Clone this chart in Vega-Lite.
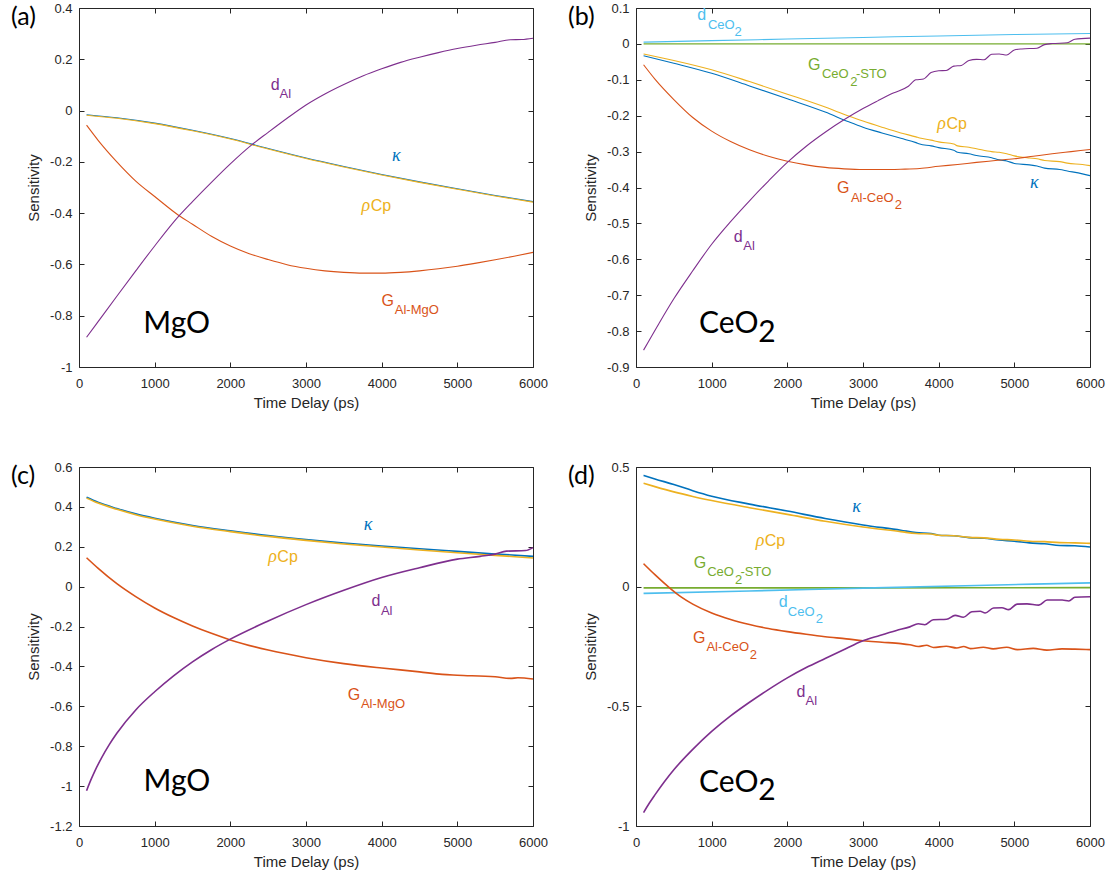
{
"$schema": "https://vega.github.io/schema/vega-lite/v6.json",
"background": "white",
"padding": {"left": 10, "top": 1, "right": 5, "bottom": 5},
"bounds": "flush",
"columns": 2,
"spacing": {"row": 100, "column": 103},
"resolve": {"scale": {"x": "independent", "y": "independent"}},
"datasets": {
"lines": [
{"p":"a","s":"kappa","x":100,"y":-0.016},{"p":"a","s":"kappa","x":500,"y":-0.028},{"p":"a","s":"kappa","x":1000,"y":-0.049},{"p":"a","s":"kappa","x":1500,"y":-0.077},{"p":"a","s":"kappa","x":2000,"y":-0.109},{"p":"a","s":"kappa","x":2500,"y":-0.148},{"p":"a","s":"kappa","x":3000,"y":-0.185},{"p":"a","s":"kappa","x":3500,"y":-0.218},{"p":"a","s":"kappa","x":4000,"y":-0.249},{"p":"a","s":"kappa","x":4500,"y":-0.278},{"p":"a","s":"kappa","x":5000,"y":-0.305},{"p":"a","s":"kappa","x":5500,"y":-0.331},{"p":"a","s":"kappa","x":6000,"y":-0.355},
{"p":"a","s":"rhoCp","x":100,"y":-0.018},{"p":"a","s":"rhoCp","x":500,"y":-0.03},{"p":"a","s":"rhoCp","x":1000,"y":-0.051},{"p":"a","s":"rhoCp","x":1500,"y":-0.079},{"p":"a","s":"rhoCp","x":2000,"y":-0.111},{"p":"a","s":"rhoCp","x":2500,"y":-0.15},{"p":"a","s":"rhoCp","x":3000,"y":-0.187},{"p":"a","s":"rhoCp","x":3500,"y":-0.22},{"p":"a","s":"rhoCp","x":4000,"y":-0.251},{"p":"a","s":"rhoCp","x":4500,"y":-0.28},{"p":"a","s":"rhoCp","x":5000,"y":-0.307},{"p":"a","s":"rhoCp","x":5500,"y":-0.333},{"p":"a","s":"rhoCp","x":6000,"y":-0.357},
{"p":"a","s":"GAl","x":100,"y":-0.057},{"p":"a","s":"GAl","x":250,"y":-0.115},{"p":"a","s":"GAl","x":500,"y":-0.2},{"p":"a","s":"GAl","x":750,"y":-0.275},{"p":"a","s":"GAl","x":1000,"y":-0.335},{"p":"a","s":"GAl","x":1324,"y":-0.41},{"p":"a","s":"GAl","x":1500,"y":-0.443},{"p":"a","s":"GAl","x":1750,"y":-0.49},{"p":"a","s":"GAl","x":2000,"y":-0.528},{"p":"a","s":"GAl","x":2250,"y":-0.558},{"p":"a","s":"GAl","x":2500,"y":-0.581},{"p":"a","s":"GAl","x":2750,"y":-0.601},{"p":"a","s":"GAl","x":3000,"y":-0.615},{"p":"a","s":"GAl","x":3250,"y":-0.625},{"p":"a","s":"GAl","x":3500,"y":-0.631},{"p":"a","s":"GAl","x":3750,"y":-0.634},{"p":"a","s":"GAl","x":4000,"y":-0.634},{"p":"a","s":"GAl","x":4250,"y":-0.631},{"p":"a","s":"GAl","x":4500,"y":-0.625},{"p":"a","s":"GAl","x":4750,"y":-0.617},{"p":"a","s":"GAl","x":5000,"y":-0.607},{"p":"a","s":"GAl","x":5250,"y":-0.595},{"p":"a","s":"GAl","x":5500,"y":-0.582},{"p":"a","s":"GAl","x":5750,"y":-0.568},{"p":"a","s":"GAl","x":6000,"y":-0.553},
{"p":"a","s":"dAl","x":100,"y":-0.884},{"p":"a","s":"dAl","x":250,"y":-0.824},{"p":"a","s":"dAl","x":500,"y":-0.724},{"p":"a","s":"dAl","x":750,"y":-0.625},{"p":"a","s":"dAl","x":1000,"y":-0.528},{"p":"a","s":"dAl","x":1324,"y":-0.41},{"p":"a","s":"dAl","x":1500,"y":-0.355},{"p":"a","s":"dAl","x":1750,"y":-0.28},{"p":"a","s":"dAl","x":2000,"y":-0.208},{"p":"a","s":"dAl","x":2278,"y":-0.135},{"p":"a","s":"dAl","x":2500,"y":-0.085},{"p":"a","s":"dAl","x":2750,"y":-0.03},{"p":"a","s":"dAl","x":3000,"y":0.022},{"p":"a","s":"dAl","x":3250,"y":0.065},{"p":"a","s":"dAl","x":3500,"y":0.102},{"p":"a","s":"dAl","x":3750,"y":0.135},{"p":"a","s":"dAl","x":4000,"y":0.163},{"p":"a","s":"dAl","x":4250,"y":0.188},{"p":"a","s":"dAl","x":4500,"y":0.208},{"p":"a","s":"dAl","x":4750,"y":0.226},{"p":"a","s":"dAl","x":5000,"y":0.242},{"p":"a","s":"dAl","x":5250,"y":0.255},{"p":"a","s":"dAl","x":5500,"y":0.266},{"p":"a","s":"dAl","x":5700,"y":0.276},{"p":"a","s":"dAl","x":5850,"y":0.277},{"p":"a","s":"dAl","x":6000,"y":0.282},

{"p":"b","s":"dCeO2","x":100,"y":0.005},{"p":"b","s":"dCeO2","x":1000,"y":0.009},{"p":"b","s":"dCeO2","x":2000,"y":0.0135},{"p":"b","s":"dCeO2","x":3000,"y":0.018},{"p":"b","s":"dCeO2","x":4000,"y":0.022},{"p":"b","s":"dCeO2","x":5000,"y":0.026},{"p":"b","s":"dCeO2","x":6000,"y":0.029},
{"p":"b","s":"GSTO","x":100,"y":0.0},{"p":"b","s":"GSTO","x":3000,"y":0.0},{"p":"b","s":"GSTO","x":6000,"y":0.0},
{"p":"b","s":"kappa","x":100,"y":-0.033},{"p":"b","s":"kappa","x":500,"y":-0.054},{"p":"b","s":"kappa","x":1000,"y":-0.082},{"p":"b","s":"kappa","x":1500,"y":-0.117},{"p":"b","s":"kappa","x":2000,"y":-0.153},{"p":"b","s":"kappa","x":2500,"y":-0.19},{"p":"b","s":"kappa","x":2800,"y":-0.216},{"p":"b","s":"kappa","x":3000,"y":-0.232},{"p":"b","s":"kappa","x":3250,"y":-0.248},{"p":"b","s":"kappa","x":3500,"y":-0.263},{"p":"b","s":"kappa","x":3700,"y":-0.275},{"p":"b","s":"kappa","x":3750,"y":-0.279},{"p":"b","s":"kappa","x":3900,"y":-0.284},{"p":"b","s":"kappa","x":4000,"y":-0.289},{"p":"b","s":"kappa","x":4200,"y":-0.296},{"p":"b","s":"kappa","x":4250,"y":-0.302},{"p":"b","s":"kappa","x":4400,"y":-0.306},{"p":"b","s":"kappa","x":4500,"y":-0.311},{"p":"b","s":"kappa","x":4700,"y":-0.317},{"p":"b","s":"kappa","x":4800,"y":-0.323},{"p":"b","s":"kappa","x":4900,"y":-0.326},{"p":"b","s":"kappa","x":5000,"y":-0.333},{"p":"b","s":"kappa","x":5200,"y":-0.337},{"p":"b","s":"kappa","x":5300,"y":-0.34},{"p":"b","s":"kappa","x":5400,"y":-0.346},{"p":"b","s":"kappa","x":5600,"y":-0.35},{"p":"b","s":"kappa","x":5700,"y":-0.354},{"p":"b","s":"kappa","x":5900,"y":-0.362},{"p":"b","s":"kappa","x":6000,"y":-0.367},
{"p":"b","s":"rhoCp","x":100,"y":-0.028},{"p":"b","s":"rhoCp","x":500,"y":-0.046},{"p":"b","s":"rhoCp","x":1000,"y":-0.072},{"p":"b","s":"rhoCp","x":1500,"y":-0.105},{"p":"b","s":"rhoCp","x":2000,"y":-0.14},{"p":"b","s":"rhoCp","x":2500,"y":-0.176},{"p":"b","s":"rhoCp","x":2800,"y":-0.2},{"p":"b","s":"rhoCp","x":3000,"y":-0.215},{"p":"b","s":"rhoCp","x":3250,"y":-0.232},{"p":"b","s":"rhoCp","x":3500,"y":-0.248},{"p":"b","s":"rhoCp","x":3700,"y":-0.259},{"p":"b","s":"rhoCp","x":3750,"y":-0.262},{"p":"b","s":"rhoCp","x":3900,"y":-0.268},{"p":"b","s":"rhoCp","x":4000,"y":-0.273},{"p":"b","s":"rhoCp","x":4200,"y":-0.279},{"p":"b","s":"rhoCp","x":4250,"y":-0.284},{"p":"b","s":"rhoCp","x":4400,"y":-0.288},{"p":"b","s":"rhoCp","x":4500,"y":-0.292},{"p":"b","s":"rhoCp","x":4700,"y":-0.3},{"p":"b","s":"rhoCp","x":4800,"y":-0.302},{"p":"b","s":"rhoCp","x":4900,"y":-0.306},{"p":"b","s":"rhoCp","x":5000,"y":-0.312},{"p":"b","s":"rhoCp","x":5200,"y":-0.318},{"p":"b","s":"rhoCp","x":5300,"y":-0.32},{"p":"b","s":"rhoCp","x":5400,"y":-0.325},{"p":"b","s":"rhoCp","x":5600,"y":-0.328},{"p":"b","s":"rhoCp","x":5700,"y":-0.332},{"p":"b","s":"rhoCp","x":5900,"y":-0.336},{"p":"b","s":"rhoCp","x":6000,"y":-0.339},
{"p":"b","s":"GAl","x":100,"y":-0.058},{"p":"b","s":"GAl","x":250,"y":-0.098},{"p":"b","s":"GAl","x":500,"y":-0.155},{"p":"b","s":"GAl","x":750,"y":-0.205},{"p":"b","s":"GAl","x":1000,"y":-0.243},{"p":"b","s":"GAl","x":1250,"y":-0.272},{"p":"b","s":"GAl","x":1500,"y":-0.295},{"p":"b","s":"GAl","x":1750,"y":-0.313},{"p":"b","s":"GAl","x":2000,"y":-0.327},{"p":"b","s":"GAl","x":2250,"y":-0.337},{"p":"b","s":"GAl","x":2500,"y":-0.344},{"p":"b","s":"GAl","x":2750,"y":-0.348},{"p":"b","s":"GAl","x":3000,"y":-0.35},{"p":"b","s":"GAl","x":3250,"y":-0.35},{"p":"b","s":"GAl","x":3500,"y":-0.349},{"p":"b","s":"GAl","x":3750,"y":-0.347},{"p":"b","s":"GAl","x":4000,"y":-0.341},{"p":"b","s":"GAl","x":4250,"y":-0.336},{"p":"b","s":"GAl","x":4500,"y":-0.33},{"p":"b","s":"GAl","x":4750,"y":-0.325},{"p":"b","s":"GAl","x":5000,"y":-0.32},{"p":"b","s":"GAl","x":5250,"y":-0.313},{"p":"b","s":"GAl","x":5500,"y":-0.306},{"p":"b","s":"GAl","x":5750,"y":-0.3},{"p":"b","s":"GAl","x":6000,"y":-0.294},
{"p":"b","s":"dAl","x":100,"y":-0.853},{"p":"b","s":"dAl","x":300,"y":-0.78},{"p":"b","s":"dAl","x":500,"y":-0.71},{"p":"b","s":"dAl","x":750,"y":-0.632},{"p":"b","s":"dAl","x":1000,"y":-0.558},{"p":"b","s":"dAl","x":1250,"y":-0.495},{"p":"b","s":"dAl","x":1500,"y":-0.437},{"p":"b","s":"dAl","x":1750,"y":-0.382},{"p":"b","s":"dAl","x":2000,"y":-0.33},{"p":"b","s":"dAl","x":2250,"y":-0.285},{"p":"b","s":"dAl","x":2500,"y":-0.246},{"p":"b","s":"dAl","x":2775,"y":-0.208},{"p":"b","s":"dAl","x":3000,"y":-0.18},{"p":"b","s":"dAl","x":3200,"y":-0.158},{"p":"b","s":"dAl","x":3400,"y":-0.137},{"p":"b","s":"dAl","x":3600,"y":-0.118},{"p":"b","s":"dAl","x":3700,"y":-0.1},{"p":"b","s":"dAl","x":3800,"y":-0.098},{"p":"b","s":"dAl","x":3900,"y":-0.08},{"p":"b","s":"dAl","x":4000,"y":-0.075},{"p":"b","s":"dAl","x":4100,"y":-0.074},{"p":"b","s":"dAl","x":4200,"y":-0.062},{"p":"b","s":"dAl","x":4300,"y":-0.06},{"p":"b","s":"dAl","x":4400,"y":-0.046},{"p":"b","s":"dAl","x":4500,"y":-0.043},{"p":"b","s":"dAl","x":4600,"y":-0.044},{"p":"b","s":"dAl","x":4700,"y":-0.029},{"p":"b","s":"dAl","x":4800,"y":-0.028},{"p":"b","s":"dAl","x":4900,"y":-0.031},{"p":"b","s":"dAl","x":5000,"y":-0.017},{"p":"b","s":"dAl","x":5100,"y":-0.014},{"p":"b","s":"dAl","x":5300,"y":-0.012},{"p":"b","s":"dAl","x":5400,"y":-0.002},{"p":"b","s":"dAl","x":5500,"y":0.001},{"p":"b","s":"dAl","x":5700,"y":0.003},{"p":"b","s":"dAl","x":5800,"y":0.013},{"p":"b","s":"dAl","x":6000,"y":0.016},

{"p":"c","s":"kappa","x":100,"y":0.448},{"p":"c","s":"kappa","x":250,"y":0.423},{"p":"c","s":"kappa","x":500,"y":0.392},{"p":"c","s":"kappa","x":750,"y":0.365},{"p":"c","s":"kappa","x":1000,"y":0.343},{"p":"c","s":"kappa","x":1500,"y":0.307},{"p":"c","s":"kappa","x":2000,"y":0.28},{"p":"c","s":"kappa","x":2500,"y":0.256},{"p":"c","s":"kappa","x":3000,"y":0.236},{"p":"c","s":"kappa","x":3500,"y":0.219},{"p":"c","s":"kappa","x":4000,"y":0.204},{"p":"c","s":"kappa","x":4500,"y":0.19},{"p":"c","s":"kappa","x":5000,"y":0.177},{"p":"c","s":"kappa","x":5500,"y":0.164},{"p":"c","s":"kappa","x":6000,"y":0.152},
{"p":"c","s":"rhoCp","x":100,"y":0.444},{"p":"c","s":"rhoCp","x":250,"y":0.419},{"p":"c","s":"rhoCp","x":500,"y":0.388},{"p":"c","s":"rhoCp","x":750,"y":0.361},{"p":"c","s":"rhoCp","x":1000,"y":0.339},{"p":"c","s":"rhoCp","x":1500,"y":0.303},{"p":"c","s":"rhoCp","x":2000,"y":0.276},{"p":"c","s":"rhoCp","x":2500,"y":0.252},{"p":"c","s":"rhoCp","x":3000,"y":0.232},{"p":"c","s":"rhoCp","x":3500,"y":0.214},{"p":"c","s":"rhoCp","x":4000,"y":0.199},{"p":"c","s":"rhoCp","x":4500,"y":0.184},{"p":"c","s":"rhoCp","x":5000,"y":0.17},{"p":"c","s":"rhoCp","x":5500,"y":0.157},{"p":"c","s":"rhoCp","x":6000,"y":0.144},
{"p":"c","s":"GAl","x":100,"y":0.145},{"p":"c","s":"GAl","x":250,"y":0.093},{"p":"c","s":"GAl","x":500,"y":0.015},{"p":"c","s":"GAl","x":750,"y":-0.05},{"p":"c","s":"GAl","x":1000,"y":-0.107},{"p":"c","s":"GAl","x":1250,"y":-0.155},{"p":"c","s":"GAl","x":1500,"y":-0.197},{"p":"c","s":"GAl","x":1750,"y":-0.234},{"p":"c","s":"GAl","x":2000,"y":-0.267},{"p":"c","s":"GAl","x":2500,"y":-0.318},{"p":"c","s":"GAl","x":3000,"y":-0.356},{"p":"c","s":"GAl","x":3500,"y":-0.386},{"p":"c","s":"GAl","x":4000,"y":-0.408},{"p":"c","s":"GAl","x":4500,"y":-0.427},{"p":"c","s":"GAl","x":4800,"y":-0.44},{"p":"c","s":"GAl","x":5000,"y":-0.444},{"p":"c","s":"GAl","x":5500,"y":-0.452},{"p":"c","s":"GAl","x":5700,"y":-0.46},{"p":"c","s":"GAl","x":5800,"y":-0.457},{"p":"c","s":"GAl","x":6000,"y":-0.463},
{"p":"c","s":"dAl","x":100,"y":-1.023},{"p":"c","s":"dAl","x":150,"y":-0.975},{"p":"c","s":"dAl","x":200,"y":-0.932},{"p":"c","s":"dAl","x":300,"y":-0.857},{"p":"c","s":"dAl","x":400,"y":-0.792},{"p":"c","s":"dAl","x":500,"y":-0.735},{"p":"c","s":"dAl","x":750,"y":-0.618},{"p":"c","s":"dAl","x":1000,"y":-0.527},{"p":"c","s":"dAl","x":1250,"y":-0.447},{"p":"c","s":"dAl","x":1500,"y":-0.377},{"p":"c","s":"dAl","x":1750,"y":-0.316},{"p":"c","s":"dAl","x":2000,"y":-0.263},{"p":"c","s":"dAl","x":2500,"y":-0.172},{"p":"c","s":"dAl","x":3000,"y":-0.09},{"p":"c","s":"dAl","x":3500,"y":-0.018},{"p":"c","s":"dAl","x":4000,"y":0.046},{"p":"c","s":"dAl","x":4500,"y":0.095},{"p":"c","s":"dAl","x":5000,"y":0.138},{"p":"c","s":"dAl","x":5300,"y":0.152},{"p":"c","s":"dAl","x":5500,"y":0.163},{"p":"c","s":"dAl","x":5650,"y":0.178},{"p":"c","s":"dAl","x":5900,"y":0.181},{"p":"c","s":"dAl","x":6000,"y":0.196},

{"p":"d","s":"kappa","x":100,"y":0.465},{"p":"d","s":"kappa","x":250,"y":0.45},{"p":"d","s":"kappa","x":500,"y":0.427},{"p":"d","s":"kappa","x":750,"y":0.401},{"p":"d","s":"kappa","x":1000,"y":0.378},{"p":"d","s":"kappa","x":1500,"y":0.345},{"p":"d","s":"kappa","x":2000,"y":0.316},{"p":"d","s":"kappa","x":2500,"y":0.285},{"p":"d","s":"kappa","x":3000,"y":0.258},{"p":"d","s":"kappa","x":3500,"y":0.236},{"p":"d","s":"kappa","x":3700,"y":0.226},{"p":"d","s":"kappa","x":3900,"y":0.222},{"p":"d","s":"kappa","x":4000,"y":0.215},{"p":"d","s":"kappa","x":4200,"y":0.213},{"p":"d","s":"kappa","x":4400,"y":0.205},{"p":"d","s":"kappa","x":4600,"y":0.202},{"p":"d","s":"kappa","x":4800,"y":0.195},{"p":"d","s":"kappa","x":5000,"y":0.19},{"p":"d","s":"kappa","x":5200,"y":0.183},{"p":"d","s":"kappa","x":5400,"y":0.179},{"p":"d","s":"kappa","x":5600,"y":0.172},{"p":"d","s":"kappa","x":5800,"y":0.171},{"p":"d","s":"kappa","x":6000,"y":0.166},
{"p":"d","s":"rhoCp","x":100,"y":0.432},{"p":"d","s":"rhoCp","x":250,"y":0.418},{"p":"d","s":"rhoCp","x":500,"y":0.396},{"p":"d","s":"rhoCp","x":750,"y":0.377},{"p":"d","s":"rhoCp","x":1000,"y":0.36},{"p":"d","s":"rhoCp","x":1500,"y":0.33},{"p":"d","s":"rhoCp","x":2000,"y":0.302},{"p":"d","s":"rhoCp","x":2500,"y":0.273},{"p":"d","s":"rhoCp","x":3000,"y":0.249},{"p":"d","s":"rhoCp","x":3500,"y":0.23},{"p":"d","s":"rhoCp","x":3700,"y":0.222},{"p":"d","s":"rhoCp","x":3900,"y":0.22},{"p":"d","s":"rhoCp","x":4000,"y":0.215},{"p":"d","s":"rhoCp","x":4200,"y":0.213},{"p":"d","s":"rhoCp","x":4400,"y":0.206},{"p":"d","s":"rhoCp","x":4600,"y":0.204},{"p":"d","s":"rhoCp","x":4800,"y":0.198},{"p":"d","s":"rhoCp","x":5000,"y":0.195},{"p":"d","s":"rhoCp","x":5200,"y":0.19},{"p":"d","s":"rhoCp","x":5400,"y":0.188},{"p":"d","s":"rhoCp","x":5600,"y":0.184},{"p":"d","s":"rhoCp","x":5800,"y":0.183},{"p":"d","s":"rhoCp","x":6000,"y":0.181},
{"p":"d","s":"GSTO","x":100,"y":-0.005},{"p":"d","s":"GSTO","x":3000,"y":-0.005},{"p":"d","s":"GSTO","x":6000,"y":-0.004},
{"p":"d","s":"dCeO2","x":100,"y":-0.028},{"p":"d","s":"dCeO2","x":1500,"y":-0.018},{"p":"d","s":"dCeO2","x":3000,"y":-0.006},{"p":"d","s":"dCeO2","x":4500,"y":0.005},{"p":"d","s":"dCeO2","x":6000,"y":0.016},
{"p":"d","s":"GAl","x":100,"y":0.096},{"p":"d","s":"GAl","x":250,"y":0.05},{"p":"d","s":"GAl","x":455,"y":-0.008},{"p":"d","s":"GAl","x":600,"y":-0.044},{"p":"d","s":"GAl","x":750,"y":-0.073},{"p":"d","s":"GAl","x":1000,"y":-0.11},{"p":"d","s":"GAl","x":1250,"y":-0.137},{"p":"d","s":"GAl","x":1500,"y":-0.158},{"p":"d","s":"GAl","x":1750,"y":-0.175},{"p":"d","s":"GAl","x":2000,"y":-0.188},{"p":"d","s":"GAl","x":2250,"y":-0.199},{"p":"d","s":"GAl","x":2500,"y":-0.209},{"p":"d","s":"GAl","x":2779,"y":-0.218},{"p":"d","s":"GAl","x":3000,"y":-0.226},{"p":"d","s":"GAl","x":3250,"y":-0.232},{"p":"d","s":"GAl","x":3500,"y":-0.238},{"p":"d","s":"GAl","x":3620,"y":-0.243},{"p":"d","s":"GAl","x":3730,"y":-0.25},{"p":"d","s":"GAl","x":3840,"y":-0.245},{"p":"d","s":"GAl","x":3930,"y":-0.254},{"p":"d","s":"GAl","x":4100,"y":-0.249},{"p":"d","s":"GAl","x":4240,"y":-0.256},{"p":"d","s":"GAl","x":4330,"y":-0.25},{"p":"d","s":"GAl","x":4420,"y":-0.259},{"p":"d","s":"GAl","x":4590,"y":-0.253},{"p":"d","s":"GAl","x":4720,"y":-0.26},{"p":"d","s":"GAl","x":4900,"y":-0.253},{"p":"d","s":"GAl","x":5040,"y":-0.263},{"p":"d","s":"GAl","x":5250,"y":-0.258},{"p":"d","s":"GAl","x":5430,"y":-0.265},{"p":"d","s":"GAl","x":5630,"y":-0.26},{"p":"d","s":"GAl","x":5800,"y":-0.261},{"p":"d","s":"GAl","x":6000,"y":-0.263},
{"p":"d","s":"dAl","x":100,"y":-0.944},{"p":"d","s":"dAl","x":175,"y":-0.905},{"p":"d","s":"dAl","x":250,"y":-0.87},{"p":"d","s":"dAl","x":375,"y":-0.815},{"p":"d","s":"dAl","x":500,"y":-0.765},{"p":"d","s":"dAl","x":750,"y":-0.68},{"p":"d","s":"dAl","x":1000,"y":-0.605},{"p":"d","s":"dAl","x":1250,"y":-0.54},{"p":"d","s":"dAl","x":1500,"y":-0.483},{"p":"d","s":"dAl","x":1750,"y":-0.43},{"p":"d","s":"dAl","x":2000,"y":-0.381},{"p":"d","s":"dAl","x":2250,"y":-0.338},{"p":"d","s":"dAl","x":2500,"y":-0.3},{"p":"d","s":"dAl","x":2779,"y":-0.258},{"p":"d","s":"dAl","x":2975,"y":-0.229},{"p":"d","s":"dAl","x":3221,"y":-0.204},{"p":"d","s":"dAl","x":3442,"y":-0.183},{"p":"d","s":"dAl","x":3619,"y":-0.168},{"p":"d","s":"dAl","x":3730,"y":-0.155},{"p":"d","s":"dAl","x":3818,"y":-0.159},{"p":"d","s":"dAl","x":3929,"y":-0.138},{"p":"d","s":"dAl","x":4106,"y":-0.136},{"p":"d","s":"dAl","x":4217,"y":-0.12},{"p":"d","s":"dAl","x":4327,"y":-0.128},{"p":"d","s":"dAl","x":4438,"y":-0.105},{"p":"d","s":"dAl","x":4549,"y":-0.103},{"p":"d","s":"dAl","x":4615,"y":-0.11},{"p":"d","s":"dAl","x":4726,"y":-0.089},{"p":"d","s":"dAl","x":4836,"y":-0.088},{"p":"d","s":"dAl","x":4925,"y":-0.096},{"p":"d","s":"dAl","x":5036,"y":-0.073},{"p":"d","s":"dAl","x":5168,"y":-0.072},{"p":"d","s":"dAl","x":5323,"y":-0.077},{"p":"d","s":"dAl","x":5434,"y":-0.056},{"p":"d","s":"dAl","x":5633,"y":-0.056},{"p":"d","s":"dAl","x":5720,"y":-0.06},{"p":"d","s":"dAl","x":5800,"y":-0.044},{"p":"d","s":"dAl","x":6000,"y":-0.042}
],
"labels": [
{"p":"a","k":"m","x":2534,"y":0.08,"t":"d","s":"dAl"},
{"p":"a","k":"s","x":2650,"y":0.049,"t":"Al","s":"dAl"},
{"p":"a","k":"g","x":4136,"y":-0.198,"t":"κ","s":"kappa"},
{"p":"a","k":"g","x":3735,"y":-0.393,"t":"ρ","s":"rhoCp"},
{"p":"a","k":"m","x":3855,"y":-0.393,"t":"Cp","s":"rhoCp"},
{"p":"a","k":"m","x":3999,"y":-0.763,"t":"G","s":"GAl"},
{"p":"a","k":"s","x":4173,"y":-0.795,"t":"Al-MgO","s":"GAl"},
{"p":"a","k":"b","x":850,"y":-0.867,"t":"MgO","s":"blk"},

{"p":"b","k":"m","x":810,"y":0.067,"t":"d","s":"dCeO2"},
{"p":"b","k":"s","x":950,"y":0.041,"t":"CeO","s":"dCeO2"},
{"p":"b","k":"s","x":1301,"y":0.021,"t":"2","s":"dCeO2"},
{"p":"b","k":"m","x":2274,"y":-0.072,"t":"G","s":"GSTO"},
{"p":"b","k":"s","x":2457,"y":-0.095,"t":"CeO","s":"GSTO"},
{"p":"b","k":"s","x":2831,"y":-0.117,"t":"2","s":"GSTO"},
{"p":"b","k":"s","x":2906,"y":-0.095,"t":"-STO","s":"GSTO"},
{"p":"b","k":"g","x":3982,"y":-0.237,"t":"ρ","s":"rhoCp"},
{"p":"b","k":"m","x":4102,"y":-0.237,"t":"Cp","s":"rhoCp"},
{"p":"b","k":"g","x":5208,"y":-0.402,"t":"κ","s":"kappa"},
{"p":"b","k":"m","x":2658,"y":-0.414,"t":"G","s":"GAl"},
{"p":"b","k":"s","x":2840,"y":-0.439,"t":"Al-CeO","s":"GAl"},
{"p":"b","k":"s","x":3421,"y":-0.46,"t":"2","s":"GAl"},
{"p":"b","k":"m","x":1292,"y":-0.551,"t":"d","s":"dAl"},
{"p":"b","k":"s","x":1418,"y":-0.574,"t":"Al","s":"dAl"},
{"p":"b","k":"b","x":833,"y":-0.806,"t":"CeO","s":"blk"},
{"p":"b","k":"b","x":1614,"y":-0.829,"t":"2","s":"blk"},

{"p":"c","k":"g","x":3763,"y":0.283,"t":"κ","s":"kappa"},
{"p":"c","k":"g","x":2501,"y":0.124,"t":"ρ","s":"rhoCp"},
{"p":"c","k":"m","x":2621,"y":0.124,"t":"Cp","s":"rhoCp"},
{"p":"c","k":"m","x":3867,"y":-0.099,"t":"d","s":"dAl"},
{"p":"c","k":"s","x":3990,"y":-0.141,"t":"Al","s":"dAl"},
{"p":"c","k":"m","x":3552,"y":-0.568,"t":"G","s":"GAl"},
{"p":"c","k":"s","x":3726,"y":-0.61,"t":"Al-MgO","s":"GAl"},
{"p":"c","k":"b","x":853,"y":-1.025,"t":"MgO","s":"blk"},

{"p":"d","k":"g","x":2859,"y":0.312,"t":"κ","s":"kappa"},
{"p":"d","k":"g","x":1582,"y":0.17,"t":"ρ","s":"rhoCp"},
{"p":"d","k":"m","x":1702,"y":0.17,"t":"Cp","s":"rhoCp"},
{"p":"d","k":"m","x":763,"y":0.077,"t":"G","s":"GSTO"},
{"p":"d","k":"s","x":941,"y":0.043,"t":"CeO","s":"GSTO"},
{"p":"d","k":"s","x":1310,"y":0.011,"t":"2","s":"GSTO"},
{"p":"d","k":"s","x":1380,"y":0.043,"t":"-STO","s":"GSTO"},
{"p":"d","k":"m","x":1886,"y":-0.087,"t":"d","s":"dCeO2"},
{"p":"d","k":"s","x":2007,"y":-0.121,"t":"CeO","s":"dCeO2"},
{"p":"d","k":"s","x":2377,"y":-0.153,"t":"2","s":"dCeO2"},
{"p":"d","k":"m","x":753,"y":-0.234,"t":"G","s":"GAl"},
{"p":"d","k":"s","x":931,"y":-0.269,"t":"Al-CeO","s":"GAl"},
{"p":"d","k":"s","x":1502,"y":-0.302,"t":"2","s":"GAl"},
{"p":"d","k":"m","x":2120,"y":-0.459,"t":"d","s":"dAl"},
{"p":"d","k":"s","x":2241,"y":-0.494,"t":"Al","s":"dAl"},
{"p":"d","k":"b","x":833,"y":-0.858,"t":"CeO","s":"blk"},
{"p":"d","k":"b","x":1614,"y":-0.89,"t":"2","s":"blk"}
]
},
"concat": [
{
"width": 454, "height": 359,
"title": {"text": "(a)", "dx": -68, "dy": 32},
"encoding": {"color": {"field": "s", "type": "nominal", "scale": {"domain": ["kappa","rhoCp","GAl","dAl","GSTO","dCeO2","blk"], "range": ["#0072BD","#EDB120","#D95319","#7E2F8E","#77AC30","#4DBEEE","#000000"]}, "legend": null}},
"layer": [
{"data": {"name": "lines"}, "transform": [{"filter": "datum.p==='a'"}], "mark": {"type": "line", "strokeWidth": 1.1, "interpolate": "monotone"},
 "encoding": {
  "x": {"field": "x", "type": "quantitative", "scale": {"domain": [0, 6000], "nice": false, "zero": false}, "axis": {"orient": "bottom", "values": [0,1000,2000,3000,4000,5000,6000], "title": "Time Delay (ps)", "labelExpr": "'' + datum.value"}},
  "y": {"field": "y", "type": "quantitative", "scale": {"domain": [-1, 0.4], "nice": false, "zero": false}, "axis": {"orient": "left", "values": [-1,-0.8,-0.6,-0.4,-0.2,0,0.2,0.4], "title": "Sensitivity", "labelExpr": "'' + datum.value"}}}},
{"data": {"name": "labels"}, "transform": [{"filter": "datum.p==='a' && datum.k==='m'"}], "mark": {"type": "text", "align": "left", "baseline": "alphabetic", "fontSize": 16, "font": "Liberation Sans"},
 "encoding": {"text": {"field": "t"},
  "x": {"field": "x", "type": "quantitative", "scale": {"domain": [0, 6000], "nice": false, "zero": false}, "axis": null},
  "y": {"field": "y", "type": "quantitative", "scale": {"domain": [-1, 0.4], "nice": false, "zero": false}, "axis": null}}},
{"data": {"name": "labels"}, "transform": [{"filter": "datum.p==='a' && datum.k==='s'"}], "mark": {"type": "text", "align": "left", "baseline": "alphabetic", "fontSize": 13, "font": "Liberation Sans"},
 "encoding": {"text": {"field": "t"},
  "x": {"field": "x", "type": "quantitative", "scale": {"domain": [0, 6000], "nice": false, "zero": false}, "axis": null},
  "y": {"field": "y", "type": "quantitative", "scale": {"domain": [-1, 0.4], "nice": false, "zero": false}, "axis": null}}},
{"data": {"name": "labels"}, "transform": [{"filter": "datum.p==='a' && datum.k==='g'"}], "mark": {"type": "text", "align": "left", "baseline": "alphabetic", "fontSize": 18, "font": "Liberation Serif", "fontStyle": "italic"},
 "encoding": {"text": {"field": "t"},
  "x": {"field": "x", "type": "quantitative", "scale": {"domain": [0, 6000], "nice": false, "zero": false}, "axis": null},
  "y": {"field": "y", "type": "quantitative", "scale": {"domain": [-1, 0.4], "nice": false, "zero": false}, "axis": null}}},
{"data": {"name": "labels"}, "transform": [{"filter": "datum.p==='a' && datum.k==='b'"}], "mark": {"type": "text", "align": "left", "baseline": "alphabetic", "fontSize": 30, "font": "Lato"},
 "encoding": {"text": {"field": "t"},
  "x": {"field": "x", "type": "quantitative", "scale": {"domain": [0, 6000], "nice": false, "zero": false}, "axis": {"orient": "top", "values": [0,1000,2000,3000,4000,5000,6000], "labels": false, "title": null}},
  "y": {"field": "y", "type": "quantitative", "scale": {"domain": [-1, 0.4], "nice": false, "zero": false}, "axis": {"orient": "right", "values": [-1,-0.8,-0.6,-0.4,-0.2,0,0.2,0.4], "labels": false, "title": null}}}}
]
},
{
"width": 454, "height": 359,
"title": {"text": "(b)", "dx": -68, "dy": 32},
"encoding": {"color": {"field": "s", "type": "nominal", "scale": {"domain": ["kappa","rhoCp","GAl","dAl","GSTO","dCeO2","blk"], "range": ["#0072BD","#EDB120","#D95319","#7E2F8E","#77AC30","#4DBEEE","#000000"]}, "legend": null}},
"layer": [
{"data": {"name": "lines"}, "transform": [{"filter": "datum.p==='b'"}], "mark": {"type": "line", "strokeWidth": 1.1, "interpolate": "monotone"},
 "encoding": {
  "x": {"field": "x", "type": "quantitative", "scale": {"domain": [0, 6000], "nice": false, "zero": false}, "axis": {"orient": "bottom", "values": [0,1000,2000,3000,4000,5000,6000], "title": "Time Delay (ps)", "labelExpr": "'' + datum.value"}},
  "y": {"field": "y", "type": "quantitative", "scale": {"domain": [-0.9, 0.1], "nice": false, "zero": false}, "axis": {"orient": "left", "values": [-0.9,-0.8,-0.7,-0.6,-0.5,-0.4,-0.3,-0.2,-0.1,0,0.1], "title": "Sensitivity", "labelExpr": "'' + datum.value"}}}},
{"data": {"name": "labels"}, "transform": [{"filter": "datum.p==='b' && datum.k==='m'"}], "mark": {"type": "text", "align": "left", "baseline": "alphabetic", "fontSize": 16, "font": "Liberation Sans"},
 "encoding": {"text": {"field": "t"},
  "x": {"field": "x", "type": "quantitative", "scale": {"domain": [0, 6000], "nice": false, "zero": false}, "axis": null},
  "y": {"field": "y", "type": "quantitative", "scale": {"domain": [-0.9, 0.1], "nice": false, "zero": false}, "axis": null}}},
{"data": {"name": "labels"}, "transform": [{"filter": "datum.p==='b' && datum.k==='s'"}], "mark": {"type": "text", "align": "left", "baseline": "alphabetic", "fontSize": 13, "font": "Liberation Sans"},
 "encoding": {"text": {"field": "t"},
  "x": {"field": "x", "type": "quantitative", "scale": {"domain": [0, 6000], "nice": false, "zero": false}, "axis": null},
  "y": {"field": "y", "type": "quantitative", "scale": {"domain": [-0.9, 0.1], "nice": false, "zero": false}, "axis": null}}},
{"data": {"name": "labels"}, "transform": [{"filter": "datum.p==='b' && datum.k==='g'"}], "mark": {"type": "text", "align": "left", "baseline": "alphabetic", "fontSize": 18, "font": "Liberation Serif", "fontStyle": "italic"},
 "encoding": {"text": {"field": "t"},
  "x": {"field": "x", "type": "quantitative", "scale": {"domain": [0, 6000], "nice": false, "zero": false}, "axis": null},
  "y": {"field": "y", "type": "quantitative", "scale": {"domain": [-0.9, 0.1], "nice": false, "zero": false}, "axis": null}}},
{"data": {"name": "labels"}, "transform": [{"filter": "datum.p==='b' && datum.k==='b'"}], "mark": {"type": "text", "align": "left", "baseline": "alphabetic", "fontSize": 30, "font": "Lato"},
 "encoding": {"text": {"field": "t"},
  "x": {"field": "x", "type": "quantitative", "scale": {"domain": [0, 6000], "nice": false, "zero": false}, "axis": {"orient": "top", "values": [0,1000,2000,3000,4000,5000,6000], "labels": false, "title": null}},
  "y": {"field": "y", "type": "quantitative", "scale": {"domain": [-0.9, 0.1], "nice": false, "zero": false}, "axis": {"orient": "right", "values": [-0.9,-0.8,-0.7,-0.6,-0.5,-0.4,-0.3,-0.2,-0.1,0,0.1], "labels": false, "title": null}}}}
]
},
{
"width": 454, "height": 359,
"title": {"text": "(c)", "dx": -68, "dy": 32},
"encoding": {"color": {"field": "s", "type": "nominal", "scale": {"domain": ["kappa","rhoCp","GAl","dAl","GSTO","dCeO2","blk"], "range": ["#0072BD","#EDB120","#D95319","#7E2F8E","#77AC30","#4DBEEE","#000000"]}, "legend": null}},
"layer": [
{"data": {"name": "lines"}, "transform": [{"filter": "datum.p==='c'"}], "mark": {"type": "line", "strokeWidth": 1.6, "interpolate": "monotone"},
 "encoding": {
  "x": {"field": "x", "type": "quantitative", "scale": {"domain": [0, 6000], "nice": false, "zero": false}, "axis": {"orient": "bottom", "values": [0,1000,2000,3000,4000,5000,6000], "title": "Time Delay (ps)", "labelExpr": "'' + datum.value"}},
  "y": {"field": "y", "type": "quantitative", "scale": {"domain": [-1.2, 0.6], "nice": false, "zero": false}, "axis": {"orient": "left", "values": [-1.2,-1,-0.8,-0.6,-0.4,-0.2,0,0.2,0.4,0.6], "title": "Sensitivity", "labelExpr": "'' + datum.value"}}}},
{"data": {"name": "labels"}, "transform": [{"filter": "datum.p==='c' && datum.k==='m'"}], "mark": {"type": "text", "align": "left", "baseline": "alphabetic", "fontSize": 16, "font": "Liberation Sans"},
 "encoding": {"text": {"field": "t"},
  "x": {"field": "x", "type": "quantitative", "scale": {"domain": [0, 6000], "nice": false, "zero": false}, "axis": null},
  "y": {"field": "y", "type": "quantitative", "scale": {"domain": [-1.2, 0.6], "nice": false, "zero": false}, "axis": null}}},
{"data": {"name": "labels"}, "transform": [{"filter": "datum.p==='c' && datum.k==='s'"}], "mark": {"type": "text", "align": "left", "baseline": "alphabetic", "fontSize": 13, "font": "Liberation Sans"},
 "encoding": {"text": {"field": "t"},
  "x": {"field": "x", "type": "quantitative", "scale": {"domain": [0, 6000], "nice": false, "zero": false}, "axis": null},
  "y": {"field": "y", "type": "quantitative", "scale": {"domain": [-1.2, 0.6], "nice": false, "zero": false}, "axis": null}}},
{"data": {"name": "labels"}, "transform": [{"filter": "datum.p==='c' && datum.k==='g'"}], "mark": {"type": "text", "align": "left", "baseline": "alphabetic", "fontSize": 18, "font": "Liberation Serif", "fontStyle": "italic"},
 "encoding": {"text": {"field": "t"},
  "x": {"field": "x", "type": "quantitative", "scale": {"domain": [0, 6000], "nice": false, "zero": false}, "axis": null},
  "y": {"field": "y", "type": "quantitative", "scale": {"domain": [-1.2, 0.6], "nice": false, "zero": false}, "axis": null}}},
{"data": {"name": "labels"}, "transform": [{"filter": "datum.p==='c' && datum.k==='b'"}], "mark": {"type": "text", "align": "left", "baseline": "alphabetic", "fontSize": 30, "font": "Lato"},
 "encoding": {"text": {"field": "t"},
  "x": {"field": "x", "type": "quantitative", "scale": {"domain": [0, 6000], "nice": false, "zero": false}, "axis": {"orient": "top", "values": [0,1000,2000,3000,4000,5000,6000], "labels": false, "title": null}},
  "y": {"field": "y", "type": "quantitative", "scale": {"domain": [-1.2, 0.6], "nice": false, "zero": false}, "axis": {"orient": "right", "values": [-1.2,-1,-0.8,-0.6,-0.4,-0.2,0,0.2,0.4,0.6], "labels": false, "title": null}}}}
]
},
{
"width": 454, "height": 359,
"title": {"text": "(d)", "dx": -68, "dy": 32},
"encoding": {"color": {"field": "s", "type": "nominal", "scale": {"domain": ["kappa","rhoCp","GAl","dAl","GSTO","dCeO2","blk"], "range": ["#0072BD","#EDB120","#D95319","#7E2F8E","#77AC30","#4DBEEE","#000000"]}, "legend": null}},
"layer": [
{"data": {"name": "lines"}, "transform": [{"filter": "datum.p==='d'"}], "mark": {"type": "line", "strokeWidth": 1.6, "interpolate": "monotone"},
 "encoding": {
  "x": {"field": "x", "type": "quantitative", "scale": {"domain": [0, 6000], "nice": false, "zero": false}, "axis": {"orient": "bottom", "values": [0,1000,2000,3000,4000,5000,6000], "title": "Time Delay (ps)", "labelExpr": "'' + datum.value"}},
  "y": {"field": "y", "type": "quantitative", "scale": {"domain": [-1, 0.5], "nice": false, "zero": false}, "axis": {"orient": "left", "values": [-1,-0.5,0,0.5], "title": "Sensitivity", "labelExpr": "'' + datum.value"}}}},
{"data": {"name": "labels"}, "transform": [{"filter": "datum.p==='d' && datum.k==='m'"}], "mark": {"type": "text", "align": "left", "baseline": "alphabetic", "fontSize": 16, "font": "Liberation Sans"},
 "encoding": {"text": {"field": "t"},
  "x": {"field": "x", "type": "quantitative", "scale": {"domain": [0, 6000], "nice": false, "zero": false}, "axis": null},
  "y": {"field": "y", "type": "quantitative", "scale": {"domain": [-1, 0.5], "nice": false, "zero": false}, "axis": null}}},
{"data": {"name": "labels"}, "transform": [{"filter": "datum.p==='d' && datum.k==='s'"}], "mark": {"type": "text", "align": "left", "baseline": "alphabetic", "fontSize": 13, "font": "Liberation Sans"},
 "encoding": {"text": {"field": "t"},
  "x": {"field": "x", "type": "quantitative", "scale": {"domain": [0, 6000], "nice": false, "zero": false}, "axis": null},
  "y": {"field": "y", "type": "quantitative", "scale": {"domain": [-1, 0.5], "nice": false, "zero": false}, "axis": null}}},
{"data": {"name": "labels"}, "transform": [{"filter": "datum.p==='d' && datum.k==='g'"}], "mark": {"type": "text", "align": "left", "baseline": "alphabetic", "fontSize": 18, "font": "Liberation Serif", "fontStyle": "italic"},
 "encoding": {"text": {"field": "t"},
  "x": {"field": "x", "type": "quantitative", "scale": {"domain": [0, 6000], "nice": false, "zero": false}, "axis": null},
  "y": {"field": "y", "type": "quantitative", "scale": {"domain": [-1, 0.5], "nice": false, "zero": false}, "axis": null}}},
{"data": {"name": "labels"}, "transform": [{"filter": "datum.p==='d' && datum.k==='b'"}], "mark": {"type": "text", "align": "left", "baseline": "alphabetic", "fontSize": 30, "font": "Lato"},
 "encoding": {"text": {"field": "t"},
  "x": {"field": "x", "type": "quantitative", "scale": {"domain": [0, 6000], "nice": false, "zero": false}, "axis": {"orient": "top", "values": [0,1000,2000,3000,4000,5000,6000], "labels": false, "title": null}},
  "y": {"field": "y", "type": "quantitative", "scale": {"domain": [-1, 0.5], "nice": false, "zero": false}, "axis": {"orient": "right", "values": [-1,-0.5,0,0.5], "labels": false, "title": null}}}}
]
}
],
"config": {
 "font": "Liberation Sans",
 "view": {"stroke": "#262626", "strokeWidth": 1},
 "axis": {"domain": false, "grid": false, "tickSize": -5, "tickColor": "#262626", "tickWidth": 1, "labelFont": "Liberation Sans", "labelFontSize": 13, "labelColor": "#262626", "titleFont": "Liberation Sans", "titleFontSize": 15, "titleFontWeight": "normal", "titleColor": "#262626", "labelOverlap": false, "labelFlush": false},
 "axisX": {"labelPadding": 15, "titlePadding": 5},
 "axisY": {"labelPadding": 12, "titlePadding": 8},
 "title": {"font": "Lato", "fontSize": 25, "fontWeight": "normal", "color": "#000000", "anchor": "start", "frame": "group", "offset": 0}
}
}
